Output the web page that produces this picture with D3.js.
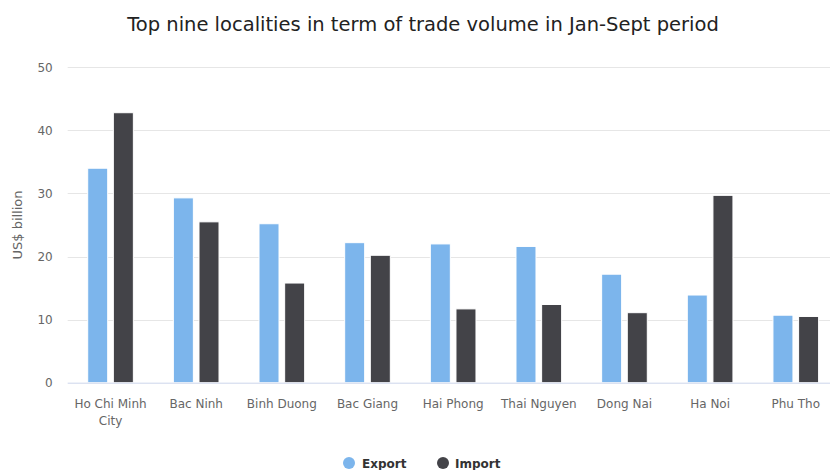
<!DOCTYPE html>
<html>
<head>
<meta charset="utf-8">
<script src="https://cdn.jsdelivr.net/npm/d3@7"></script>
<style>
	body { margin: 0; background: #fff; }
	svg { display: block; font-family: "DejaVu Sans", Verdana, sans-serif; }
</style>
</head>
<body>
<div class="graph"></div>
<script>
// values, US$ billion
const localities = ["Ho Chi Minh City", "Bac Ninh", "Binh Duong", "Bac Giang", "Hai Phong", "Thai Nguyen", "Dong Nai", "Ha Noi", "Phu Tho"];
const exportVals = [34.0, 29.3, 25.2, 22.2, 22.0, 21.6, 17.2, 13.9, 10.7];
const importVals = [42.8, 25.5, 15.8, 20.2, 11.7, 12.4, 11.1, 29.7, 10.5];
const seriesNames = ["Export", "Import"];
const yTicks = [0, 10, 20, 30, 40, 50];

const colors = ["#7cb5ec", "#434348"];

const drawChart = function(){
	let svg = d3.select(".graph")
		.append("svg")
		.attr("width", 830)
		.attr("height", 470);

	let left = 67.7, right = 838.6, top = 67.3, bottom = 382.7;

	let x = d3.scaleBand()
		.domain(localities)
		.range([left, right]);

	let inner = d3.scaleBand()
		.domain(seriesNames)
		.range([0, x.bandwidth()])
		.paddingInner(0.22)
		.paddingOuter(0.78);

	let y = d3.scaleLinear()
		.domain([0, 50])
		.range([bottom, top]);

	// title
	svg.append("text")
		.attr("x", 423)
		.attr("y", 31)
		.attr("text-anchor", "middle")
		.attr("fill", "#222")
		.style("font-size", "19.5px")
		.text("Top nine localities in term of trade volume in Jan-Sept period");

	// grid
	svg.append("g")
		.selectAll("line")
		.data(yTicks.filter(d => d > 0))
		.enter().append("line")
		.attr("x1", left)
		.attr("x2", right + 10)
		.attr("y1", d => Math.round(y(d)) + 0.5)
		.attr("y2", d => Math.round(y(d)) + 0.5)
		.attr("stroke", "#e6e6e6");

	// y axis labels
	let yAxis = svg.append("g")
		.attr("transform", "translate(" + (left - 15) + ",0)")
		.call(d3.axisLeft(y).tickValues(yTicks).tickSize(0).tickPadding(0));
	yAxis.select(".domain").remove();
	yAxis.selectAll("text")
		.attr("fill", "#666")
		.style("font-size", "12px")
		.style("font-family", "DejaVu Sans, sans-serif");

	svg.append("text")
		.attr("transform", "translate(22," + ((top + bottom) / 2) + ") rotate(-90)")
		.attr("text-anchor", "middle")
		.attr("fill", "#666")
		.style("font-size", "13px")
		.text("US$ billion");

	// bars
	let groups = svg.append("g")
		.selectAll("g")
		.data(localities.map((name, i) => ({name: name, vals: [exportVals[i], importVals[i]]})))
		.enter().append("g")
		.attr("transform", d => "translate(" + x(d.name) + ",0)");

	groups.selectAll("rect")
		.data(d => d.vals.map((v, k) => ({key: seriesNames[k], v: v, k: k})))
		.enter().append("rect")
		.attr("x", d => inner(d.key))
		.attr("width", inner.bandwidth())
		.attr("y", d => y(d.v))
		.attr("height", d => bottom - y(d.v))
		.attr("fill", d => colors[d.k])
		.attr("stroke", "#fff")
		.attr("stroke-width", 1);

	// x axis
	let xAxis = svg.append("g")
		.attr("transform", "translate(0," + bottom + ")")
		.call(d3.axisBottom(x).tickSize(0).tickPadding(0));
	xAxis.select(".domain")
		.attr("stroke", "#ccd6eb")
		.attr("d", "M" + left + ",0.5H" + (right + 10));
	xAxis.selectAll(".tick text").remove();
	xAxis.selectAll(".tick").each(function(d){
		let t = d3.select(this).append("text")
			.attr("text-anchor", "middle")
			.attr("fill", "#666")
			.style("font-size", "12px")
			.style("font-family", "DejaVu Sans, sans-serif");
		let lines = d == "Ho Chi Minh City" ? ["Ho Chi Minh", "City"] : [d];
		lines.forEach(function(l, i){
			t.append("tspan").attr("x", 0).attr("y", 25 + i * 17).text(l);
		});
	});

	// legend
	let legend = svg.append("g");
	let items = [{name: "Export", cx: 349, tx: 362}, {name: "Import", cx: 443, tx: 455}];
	items.forEach(function(it, i){
		legend.append("circle")
			.attr("cx", it.cx).attr("cy", 463).attr("r", 6)
			.attr("fill", colors[i]);
		legend.append("text")
			.attr("x", it.tx).attr("y", 468)
			.attr("fill", "#333")
			.style("font-size", "12px")
			.style("font-weight", "bold")
			.text(it.name);
	});
}

drawChart();
</script>
</body>
</html>
